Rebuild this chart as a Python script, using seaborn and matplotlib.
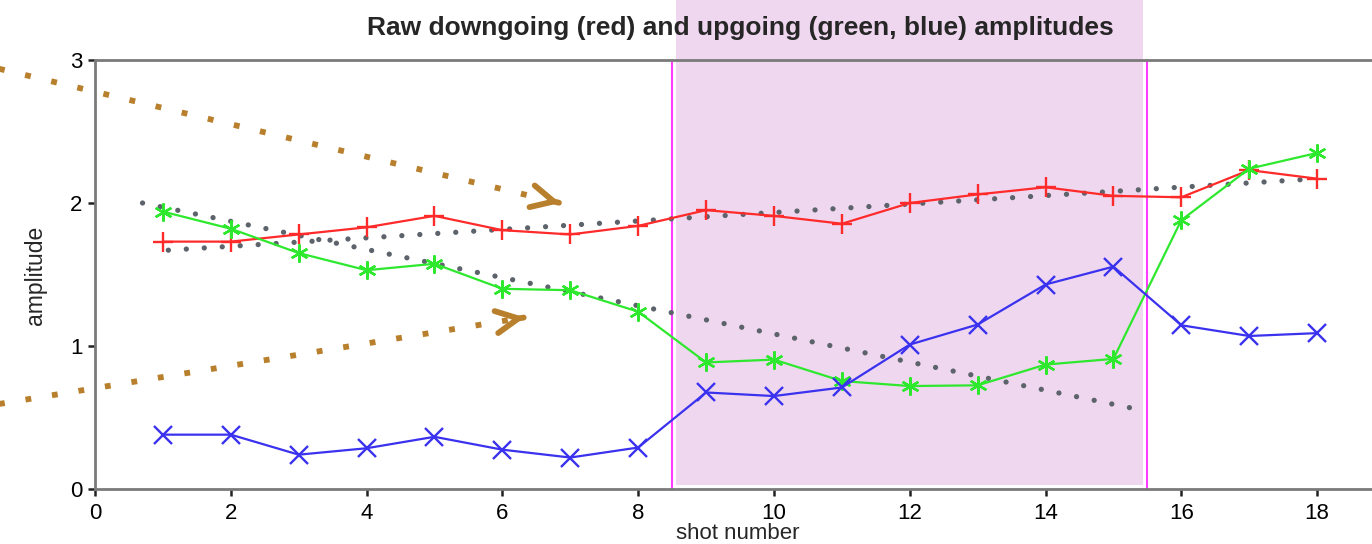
import numpy as np
import pandas as pd
import matplotlib
matplotlib.use("Agg")
import matplotlib.pyplot as plt
from matplotlib.patches import Rectangle
import seaborn as sns

# ---- data -------------------------------------------------------------
shots = list(range(1, 19))
downgoing_red = [1.73, 1.73, 1.78, 1.83, 1.91, 1.81, 1.78, 1.84, 1.95,
                 1.91, 1.855, 2.00, 2.06, 2.11, 2.05, 2.04, 2.23, 2.17]
upgoing_green = [1.94, 1.82, 1.65, 1.53, 1.575, 1.40, 1.39, 1.24, 0.885,
                 0.905, 0.755, 0.72, 0.725, 0.87, 0.91, 1.88, 2.24, 2.35]
upgoing_blue = [0.38, 0.38, 0.24, 0.285, 0.365, 0.275, 0.22, 0.29, 0.675,
                0.65, 0.71, 1.01, 1.15, 1.43, 1.555, 1.145, 1.07, 1.09]

# trend lines (start, end)
trend_down_x = [0.70, 15.43]
trend_down_y = [2.00, 0.55]
trend_up_x = [1.08, 18.0]
trend_up_y = [1.67, 2.17]

# annotation arrows (tail, tip)
arrow_upper_x = [-1.6, 6.85]
arrow_upper_y = [2.96, 2.00]
arrow_lower_x = [-1.6, 6.33]
arrow_lower_y = [0.58, 1.20]

# highlighted shot window
window = [8.5, 15.5]

x_ticks = [0, 2, 4, 6, 8, 10, 12, 14, 16, 18]
y_ticks = [0, 1, 2, 3]

title = "Raw downgoing (red) and upgoing (green, blue) amplitudes"

# ---- style ------------------------------------------------------------
sns.set_style("white")
plt.rcParams["font.family"] = ["Liberation Sans", "DejaVu Sans"]

W, H = 1372, 544
fig = plt.figure(figsize=(W / 100, H / 100), dpi=100)
ax = fig.add_axes([95 / W, 55 / H, 1290 / W, 429 / H])
ax.set_xlim(0, 19)
ax.set_ylim(0, 3)

spine_col = "#7a7a7a"
for s in ax.spines.values():
    s.set_color(spine_col)
    s.set_linewidth(2.0)
    s.set_zorder(2.5)

# shaded window, running up past the top of the axes
ax.add_patch(Rectangle((window[0] + 0.06, 0.025), window[1] - window[0] - 0.12, 5,
                       facecolor="#f0d7f0", edgecolor="none", zorder=0,
                       clip_on=False))
ax.vlines(window, 0, 3, colors="#ff3cff", lw=1.5, zorder=1)

# trend lines
dot_style = dict(color="#5d636b", lw=3.8, linestyle=(0, (0.01, 3.4)),
                 dash_capstyle="round", zorder=2)
ax.plot(trend_down_x, trend_down_y, **dot_style)
ax.plot(trend_up_x, trend_up_y, **dot_style)

# amplitude series
df = pd.DataFrame({"shot": shots, "red": downgoing_red,
                   "green": upgoing_green, "blue": upgoing_blue})
series = [("red", "#ff2a2a", "+", 15), ("green", "#2ee82e", (6, 2, 0), 13),
          ("blue", "#3a32ee", "x", 13)]
for col, colour, mk, ms in series:
    sns.lineplot(data=df, x="shot", y=col, ax=ax, color=colour, lw=1.6,
                 marker=mk, markersize=ms, markeredgewidth=1.7,
                 markeredgecolor=colour, markerfacecolor=colour, zorder=3)

# annotation arrows
arrow_col = "#b8802c"
for ax_x, ax_y in [(arrow_upper_x, arrow_upper_y), (arrow_lower_x, arrow_lower_y)]:
    ax.plot(ax_x, ax_y, color=arrow_col, lw=4.2, linestyle=(0, (1, 3.6)),
            dash_capstyle="butt", clip_on=False, zorder=4)
    dx = ax_x[1] - ax_x[0]
    dy = ax_y[1] - ax_y[0]
    ax.annotate("", xy=(ax_x[1], ax_y[1]),
                xytext=(ax_x[1] - dx * 0.002, ax_y[1] - dy * 0.002),
                arrowprops=dict(arrowstyle="->,head_length=1.6,head_width=0.8",
                                color=arrow_col, lw=4.2, shrinkA=0, shrinkB=0),
                zorder=4)

ax.set_xticks(x_ticks)
ax.set_yticks(y_ticks)
ax.tick_params(axis="both", which="major", direction="out", length=5, width=1.8,
               color="#222222", labelsize=16, labelcolor="black")
ax.tick_params(axis="x", top=False, bottom=True, pad=5)
ax.tick_params(axis="y", left=True, right=False, pad=4)
ax.set_xlabel("")
ax.set_ylabel("")

fig.text(740 / W, 1 - 28 / H, title, ha="center", va="center",
         fontsize=19, fontweight="bold", zorder=5)
fig.text(738 / W, 5 / H, "shot number", ha="center", va="baseline",
         fontsize=16)
fig.text(36 / W, 1 - 275 / H, "amplitude", ha="center", va="center",
         rotation=90, fontsize=16.5)

fig.savefig("out.png", dpi=100)
